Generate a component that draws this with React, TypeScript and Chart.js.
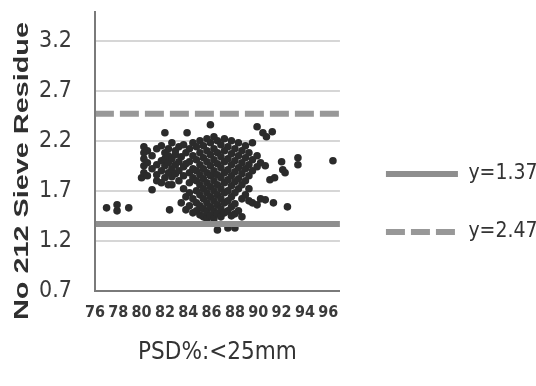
import React, { useEffect, useRef } from 'react';
import { Chart, registerables } from 'chart.js';

Chart.register(...registerables);

// ---- data ----
const psdColumns: number[] = [
  77.0, 77.9, 78.9, 80.0, 80.2, 80.5, 80.9, 81.3, 81.7, 82.0, 82.3, 82.4, 82.6, 82.9, 83.2, 83.4, 83.6, 83.8,
  83.9, 84.1, 84.4, 84.7, 85.0, 85.3, 85.6, 85.9, 86.2, 86.5, 86.8, 87.1, 87.4, 87.7, 88.0, 88.3, 88.6, 88.9,
  89.2, 89.5, 89.9, 90.2, 90.4, 90.6, 90.7, 91.0, 91.2, 91.3, 91.4, 92.0, 92.1, 92.3, 92.5, 93.4, 96.4,
];

const residueColumns: number[][] = [
  [1.53],
  [1.50, 1.56],
  [1.53],
  [1.83],
  [2.14, 2.08, 2.02, 1.95, 1.88],
  [2.10, 1.98, 1.85],
  [1.71, 1.92, 2.05],
  [1.80, 1.96, 2.12, 1.86],
  [2.00, 2.15, 1.90, 1.78],
  [2.28, 2.08, 1.95, 1.83, 2.02],
  [2.12, 1.98, 1.88, 1.76, 2.05],
  [1.51],
  [2.18, 2.02, 1.92, 1.76, 1.84],
  [2.10, 1.96, 2.06, 1.87],
  [2.14, 1.99, 1.90, 1.80],
  [1.58, 2.04],
  [2.16, 1.94, 1.85, 1.72],
  [1.51, 1.64, 2.08, 1.97],
  [2.28],
  [2.12, 1.99, 1.88, 1.78, 1.68, 1.55],
  [2.18, 2.05, 1.92, 1.83, 1.62, 1.48],
  [2.14, 2.01, 1.90, 1.80, 1.70, 1.58, 1.50],
  [2.20, 2.08, 1.96, 1.86, 1.76, 1.66, 1.55, 1.46],
  [2.15, 2.03, 1.92, 1.82, 1.72, 1.62, 1.52, 1.44],
  [2.22, 2.10, 1.99, 1.88, 1.78, 1.68, 1.58, 1.49, 1.42],
  [2.36, 2.18, 2.06, 1.95, 1.85, 1.74, 1.64, 1.54, 1.45],
  [2.24, 2.12, 2.01, 1.90, 1.80, 1.70, 1.60, 1.50, 1.42],
  [2.20, 2.08, 1.97, 1.86, 1.76, 1.66, 1.56, 1.47, 1.31],
  [2.16, 2.04, 1.93, 1.83, 1.72, 1.62, 1.52, 1.44],
  [2.22, 2.10, 1.99, 1.88, 1.78, 1.68, 1.58, 1.48],
  [2.14, 2.02, 1.91, 1.81, 1.70, 1.60, 1.50, 1.33],
  [2.20, 2.07, 1.96, 1.85, 1.75, 1.64, 1.54, 1.45],
  [2.12, 2.00, 1.89, 1.79, 1.68, 1.57, 1.47, 1.33],
  [2.18, 2.05, 1.93, 1.82, 1.72, 1.50],
  [2.10, 1.98, 1.87, 1.76, 1.62, 1.44],
  [2.15, 2.03, 1.92, 1.80, 1.66],
  [2.08, 1.96, 1.85, 1.72, 1.60],
  [2.18, 2.01, 1.90, 1.58],
  [2.34, 2.05, 1.94, 1.56],
  [1.98, 1.62],
  [2.28],
  [1.61, 1.95],
  [2.24],
  [1.81],
  [2.29],
  [1.58],
  [1.83],
  [1.99],
  [1.91],
  [1.88],
  [1.54],
  [2.03, 1.96],
  [2.00],
];

const lowerLimit = 1.37;
const upperLimit = 2.47;
const legendLabels = ['y=1.37', 'y=2.47'];

const xTickValues = [76, 78, 80, 82, 84, 86, 88, 90, 92, 94, 96];
const yTickValues = [0.7, 1.2, 1.7, 2.2, 2.7, 3.2];
const xMin = 76;
const xMax = 97;
const yMin = 0.7;
const yMax = 3.49;

const xTitle = 'PSD%:<25mm';
const yTitle = 'No 212 Sieve Residue';

const COND = "'DejaVu Sans Condensed', 'DejaVu Sans', sans-serif";

const yTitlePlugin = {
  id: 'yTitleDraw',
  afterDraw(chart: any) {
    const ctx = chart.ctx as CanvasRenderingContext2D;
    ctx.save();
    ctx.font = "bold 21px 'Liberation Sans', Arial, sans-serif";
    const w = ctx.measureText(yTitle).width;
    ctx.translate(28, 171);
    ctx.rotate(-Math.PI / 2);
    ctx.scale(298 / w, 1);
    ctx.textAlign = 'center';
    ctx.textBaseline = 'alphabetic';
    ctx.fillStyle = '#2f2f2f';
    ctx.fillText(yTitle, 0, 0);
    ctx.restore();
  },
};

export default function App() {
  const canvasRef = useRef<HTMLCanvasElement>(null);

  useEffect(() => {
    document.body.style.margin = '0';
    const points = psdColumns.flatMap((x, i) => residueColumns[i].map((y) => ({ x, y })));

    const chart = new Chart(canvasRef.current as HTMLCanvasElement, {
      type: 'scatter',
      data: {
        datasets: [
          {
            label: legendLabels[0],
            data: [{ x: xMin, y: lowerLimit }, { x: xMax, y: lowerLimit }],
            showLine: true,
            borderColor: '#8e8e8e',
            backgroundColor: '#8e8e8e',
            borderWidth: 6,
            pointRadius: 0,
            order: 0,
          },
          {
            label: legendLabels[1],
            data: [{ x: xMin, y: upperLimit }, { x: xMax, y: upperLimit }],
            showLine: true,
            borderColor: '#989898',
            backgroundColor: '#989898',
            borderWidth: 6,
            borderDash: [19, 6],
            pointRadius: 0,
            order: 0,
          },
          {
            label: 'samples',
            data: points,
            backgroundColor: '#2b2b2b',
            borderWidth: 0,
            pointRadius: 3.8,
            order: 1,
          },
        ],
      },
      options: {
        animation: false,
        responsive: false,
        devicePixelRatio: 1,
        layout: { padding: { left: 39, right: -11.5, top: 0, bottom: 0 } },
        scales: {
          x: {
            type: 'linear',
            min: xMin,
            max: xMax,
            afterBuildTicks: (s: any) => {
              s.ticks = xTickValues.map((v) => ({ value: v }));
            },
            grid: { display: false, drawTicks: false },
            border: { display: true, color: '#7a7a7a', width: 2, z: 1 },
            ticks: {
              autoSkip: false,
              maxRotation: 0,
              padding: 12,
              color: '#3a3a3a',
              font: { family: COND, size: 16, weight: 'bold' },
              callback: (v: any) => String(v),
            },
            title: {
              display: true,
              text: xTitle,
              color: '#333333',
              font: { family: COND, size: 24 },
              padding: { top: 4.4, bottom: 18.6 },
            },
          },
          y: {
            type: 'linear',
            min: yMin,
            max: yMax,
            afterBuildTicks: (s: any) => {
              s.ticks = yTickValues.map((v) => ({ value: v }));
            },
            grid: {
              color: '#d6d6d6',
              lineWidth: 2,
              drawTicks: true,
              tickLength: 23,
              tickColor: 'rgba(0,0,0,0)',
            },
            border: { display: true, color: '#7a7a7a', width: 2, z: 1 },
            ticks: {
              padding: 0,
              color: '#3a3a3a',
              font: { family: COND, size: 23, lineHeight: 1 },
              callback: (v: any) => Number(v).toFixed(1),
            },
          },
          yGap: {
            type: 'linear',
            position: 'right',
            grid: { display: false, drawTicks: false },
            border: { display: false },
            ticks: { display: false },
            afterFit: (s: any) => {
              s.width = 9;
            },
          },
        },
        plugins: {
          legend: {
            position: 'right',
            align: 'center',
            maxWidth: 230,
            title: { display: true, text: '', padding: 4, font: { size: 10 } },
            labels: {
              filter: (item: any) => legendLabels.includes(item.text),
              generateLabels: (c: any) => {
                const items = (Chart as any).defaults.plugins.legend.labels.generateLabels(c);
                items.forEach((it: any) => {
                  const ds: any = c.data.datasets[it.datasetIndex];
                  it.lineDash = ds.borderDash || [];
                  it.lineWidth = ds.borderWidth;
                  it.strokeStyle = ds.borderColor;
                  it.lineCap = 'butt';
                });
                return items;
              },
              usePointStyle: true,
              pointStyle: 'line',
              pointStyleWidth: 72,
              padding: 37,
              color: '#333333',
              font: { family: COND, size: 21 },
            },
          },
          tooltip: { enabled: false },
        },
      } as any,
      plugins: [yTitlePlugin],
    });

    return () => chart.destroy();
  }, []);

  return (
    <div style={{ width: 536, height: 386 }}>
      <canvas ref={canvasRef} width={536} height={386} />
    </div>
  );
}
